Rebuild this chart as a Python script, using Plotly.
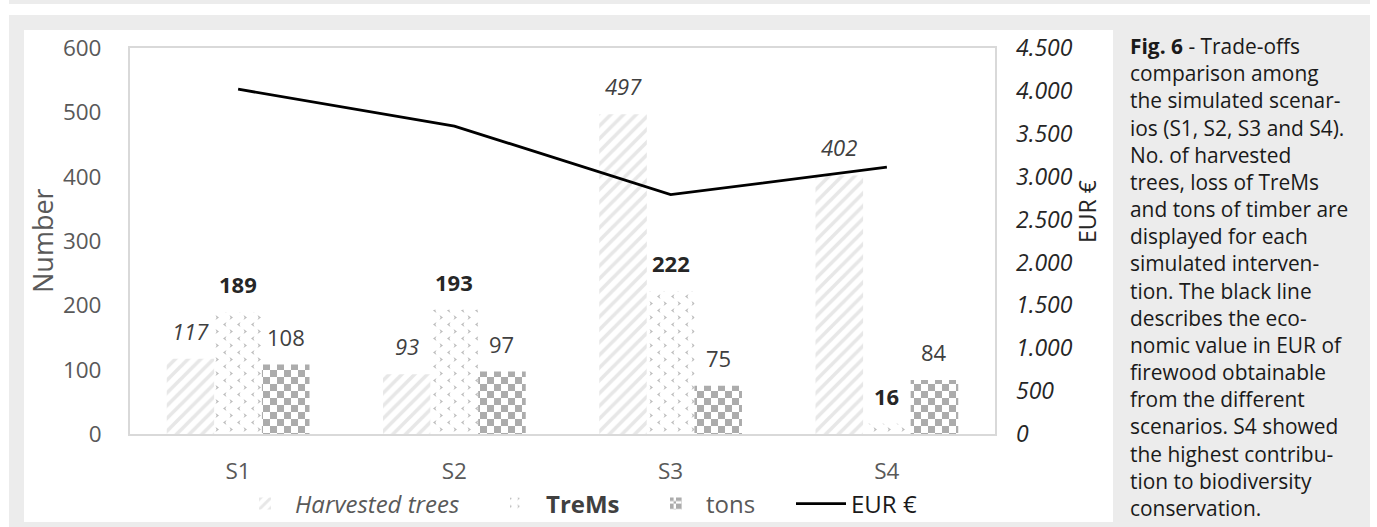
import plotly.graph_objects as go

# ---- data -------------------------------------------------------------
scenarios = ["S1", "S2", "S3", "S4"]
harvested_trees = [117, 93, 497, 402]
trems = [189, 193, 222, 16]
tons = [108, 97, 75, 84]
eur = [4020, 3590, 2790, 3110]

caption_lines = [
    "<b>Fig. 6</b> - Trade-offs",
    "comparison among",
    "the simulated scenar-",
    "ios (S1, S2, S3 and S4).",
    "No. of harvested",
    "trees, loss of TreMs",
    "and tons of timber are",
    "displayed for each",
    "simulated interven-",
    "tion. The black line",
    "describes the eco-",
    "nomic value in EUR of",
    "firewood obtainable",
    "from the different",
    "scenarios. S4 showed",
    "the highest contribu-",
    "tion to biodiversity",
    "conservation.",
]

# ---- geometry helpers (pixel -> paper coordinates) ---------------------
W, H = 1377, 527
ML, MR, MT, MB = 130, 382, 48, 93
PW = W - ML - MR
PH = H - MT - MB


def px_x(x):
    return (x - ML) / PW


def px_y(y):
    return (H - MB - y) / PH


FONT = "Open Sans"
BARGAP = 0.34
BAR_W = (1 - BARGAP) / 3
LEGEND_Y = px_y(504)


def pattern(path, fallback_shape, **kw):
    """Custom-path pattern when supported, otherwise a built-in shape."""
    try:
        return go.bar.marker.Pattern(path=path, **kw)
    except ValueError:
        return go.bar.marker.Pattern(shape=fallback_shape, **kw)


fig = go.Figure()

fig.add_trace(go.Bar(
    x=scenarios, y=harvested_trees,
    name="<i>Harvested trees</i>", legend="legend",
    marker=dict(color="white", line=dict(width=0),
                pattern=dict(shape="/", fgcolor="#cfcfcf", bgcolor="white",
                             size=9, solidity=0.4)),
    hoverinfo="skip",
))

# small ">" / "<" chevrons
fig.add_trace(go.Bar(
    x=scenarios, y=trems,
    name="<b><span style='color:#404040'>TreMs</span></b>", legend="legend2",
    marker=dict(color="white", line=dict(width=0),
                pattern=pattern("M1.5,1L5,3.5L1.5,6L2.6,3.5Z "
                                "M12.5,8L9,10.5L12.5,13L11.4,10.5Z", ".",
                                fgcolor="#7a7a7a", bgcolor="white",
                                size=14, solidity=0.1)),
    hoverinfo="skip",
))

# checkerboard
fig.add_trace(go.Bar(
    x=scenarios, y=tons,
    name="tons", legend="legend3",
    marker=dict(color="white", line=dict(width=0),
                pattern=pattern("M0,0H7V7H0Z M7,7H14V14H7Z", ".",
                                fgcolor="#595959", bgcolor="white",
                                size=14, solidity=0.5)),
    hoverinfo="skip",
))

fig.add_trace(go.Scatter(
    x=scenarios, y=eur, yaxis="y2",
    name="<span style='color:#1a1a1a'>EUR €</span>", legend="legend4",
    mode="lines", line=dict(color="black", width=2.8),
    hoverinfo="skip",
))

# ---- value labels above the bars ----------------------------------------
label_styles = [
    (harvested_trees, dict(style="italic", weight="normal", color="#404040")),
    (trems, dict(style="normal", weight="bold", color="#262626")),
    (tons, dict(style="normal", weight="normal", color="#404040")),
]
for j, (values, fstyle) in enumerate(label_styles):
    for i, v in enumerate(values):
        fig.add_annotation(
            x=i + (j - 1) * BAR_W, y=v, xref="x", yref="y",
            text=str(v), showarrow=False, yanchor="middle", yshift=28,
            font=dict(family=FONT, size=22, **fstyle),
        )

# ---- axis titles --------------------------------------------------------
fig.add_annotation(
    x=px_x(42), y=px_y(241), xref="paper", yref="paper",
    text="Number", textangle=-90, showarrow=False,
    xanchor="center", yanchor="middle",
    font=dict(family=FONT, size=27, color="#595959"),
)
fig.add_annotation(
    x=px_x(1087), y=px_y(212), xref="paper", yref="paper",
    text="EUR €", textangle=-90, showarrow=False,
    xanchor="center", yanchor="middle",
    font=dict(family=FONT, size=23, color="#262626"),
)

# ---- caption ------------------------------------------------------------
fig.add_annotation(
    x=px_x(1128), y=px_y(277), xref="paper", yref="paper",
    text="<br>".join(caption_lines), showarrow=False,
    xanchor="left", yanchor="middle", align="left",
    font=dict(family=FONT, size=20.9, color="#1a1a1a"),
)

# ---- panel backgrounds --------------------------------------------------
GRAY = "#ececec"
for (x0, y0, x1, y1, col) in [
    (9, 0, 1370, 4, GRAY),
    (9, 15, 1370, 527, GRAY),
    (24, 30, 1113, 522, "white"),
]:
    fig.add_shape(
        type="rect", xref="paper", yref="paper", layer="below",
        x0=px_x(x0), x1=px_x(x1), y0=px_y(y1), y1=px_y(y0),
        fillcolor=col, line=dict(width=0),
    )


def legend_box(text_left):
    return dict(
        orientation="h", x=px_x(text_left - 62), y=LEGEND_Y,
        xanchor="left", yanchor="middle",
        font=dict(family=FONT, size=24, color="#595959"),
        bgcolor="rgba(0,0,0,0)", itemwidth=50,
    )


fig.update_layout(
    width=W, height=H,
    margin=dict(l=ML, r=MR, t=MT, b=MB, pad=0, autoexpand=False),
    paper_bgcolor="white", plot_bgcolor="white",
    separators=",.",
    barmode="group", bargap=BARGAP, bargroupgap=0,
    font=dict(family=FONT, size=22, color="#595959"),
    showlegend=True,
    legend=legend_box(297),
    legend2=legend_box(548),
    legend3=legend_box(708),
    legend4=legend_box(853),
    xaxis=dict(
        type="category", showgrid=False, zeroline=False,
        showline=True, mirror=True, linecolor="#d9d9d9", linewidth=2,
        ticks="", ticklabelstandoff=16,
        tickfont=dict(family=FONT, size=22.5, color="#595959"),
    ),
    yaxis=dict(
        range=[0, 600], dtick=100, showgrid=False, zeroline=False,
        showline=True, mirror=True, linecolor="#d9d9d9", linewidth=2,
        ticks="", ticklabelstandoff=22,
        tickfont=dict(family=FONT, size=22.5, color="#595959"),
    ),
    yaxis2=dict(
        overlaying="y", side="right", range=[0, 4500], dtick=500,
        tickformat=",d", showgrid=False, zeroline=False, showline=False,
        ticks="", ticklabelstandoff=20,
        tickfont=dict(family=FONT, size=23, color="#262626", style="italic"),
    ),
)

fig.write_html("out.html")
